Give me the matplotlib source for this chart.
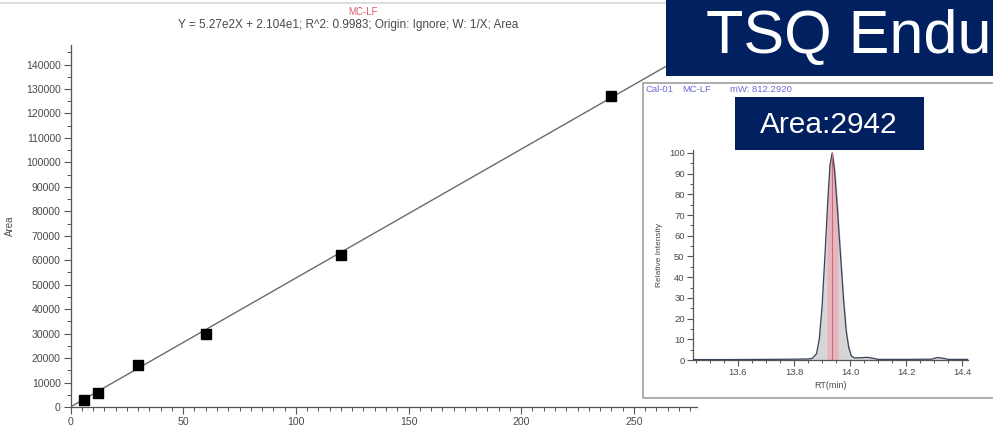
import matplotlib
matplotlib.use("Agg")
import matplotlib.pyplot as plt
from matplotlib.patches import Rectangle
from matplotlib.lines import Line2D
from matplotlib.ticker import MultipleLocator

plt.rcParams['font.family'] = ['Liberation Sans', 'DejaVu Sans']

# Calibration standards (concentration vs. peak area)
conc = [6, 12, 30, 60, 120, 240]
area = [2942, 5850, 17200, 29850, 62100, 127300]
slope = 5.27e2
intercept = 2.104e1
compound = "MC-LF"
fit_text = "Y = 5.27e2X + 2.104e1; R^2: 0.9983; Origin: Ignore; W: 1/X; Area"

# Cal-01 chromatogram (retention time, relative intensity)
rt = [13.44, 13.55, 13.70, 13.80, 13.85, 13.865, 13.880, 13.890, 13.900, 13.910,
      13.920, 13.928, 13.936, 13.944, 13.955, 13.966, 13.976, 13.986, 13.995,
      14.004, 14.015, 14.04, 14.06, 14.08, 14.10, 14.20, 14.29, 14.31, 14.33,
      14.35, 14.42]
intensity = [0.2, 0.2, 0.3, 0.4, 0.5, 0.8, 3, 10, 26, 50,
             76, 94, 100, 92, 72, 50, 30, 14, 6,
             2.0, 1.0, 1.1, 1.3, 0.9, 0.3, 0.3, 0.4, 1.2, 0.9,
             0.3, 0.3]
trace_run, trace_cmpd, trace_mass = "Cal-01", "MC-LF", "mW: 812.2920"
peak_area = 2942
instrument = "TSQ Endu"

W, H = 993, 432
fig = plt.figure(figsize=(W / 100, H / 100), dpi=100)


def box(x0, y0, x1, y1):
    """Pixel box (top-left origin) -> figure fraction rect."""
    return [x0 / W, 1 - y1 / H, (x1 - x0) / W, (y1 - y0) / H]


def fx(x):
    return x / W


def fy(y):
    return 1 - y / H


grey_text = "#4a4a4a"

# ---- calibration curve ----
ax = fig.add_axes(box(70.5, 45, 697, 407))
ax.set_xlim(0, 278)
ax.set_ylim(0, 148000)
xs = [0, 278]
ax.plot(xs, [slope * x + intercept for x in xs], color="#6a6a6a", lw=1.0, zorder=2)
ax.plot(conc, area, ls="none", marker="s", ms=7, color="black", zorder=3)
for s in ("top", "right"):
    ax.spines[s].set_visible(False)
for s in ("left", "bottom"):
    ax.spines[s].set_color("#555555")
    ax.spines[s].set_linewidth(0.9)
ax.xaxis.set_major_locator(MultipleLocator(50))
ax.xaxis.set_minor_locator(MultipleLocator(5))
ax.yaxis.set_major_locator(MultipleLocator(10000))
ax.yaxis.set_minor_locator(MultipleLocator(5000))
ax.tick_params(which="major", length=5, width=0.8, color="#555555",
               labelsize=7.6, labelcolor=grey_text, pad=2)
ax.tick_params(which="minor", length=3, width=0.7, color="#555555")
ax.set_ylabel("Area", fontsize=7, color=grey_text)
ax.yaxis.set_label_coords(-0.088, 0.5)

fig.text(fx(363), fy(12), compound, ha="center", va="center",
         fontsize=7, color="#e05a6a")
fig.text(fx(348), fy(25), fit_text, ha="center", va="center",
         fontsize=8.5, color=grey_text)

# faint rule across the top edge
fig.add_artist(Line2D([0, 1], [fy(3), fy(3)], color="#dddddd", lw=1.5))

# ---- chromatogram panel ----
fig.add_artist(Rectangle((fx(643), fy(398)), fx(993) - fx(643) + 0.01,
                         fy(83) - fy(398), facecolor="white",
                         edgecolor="#a0a0a0", lw=1.2, zorder=5,
                         transform=fig.transFigure))
for px, txt in ((645, trace_run), (682, trace_cmpd), (730, trace_mass)):
    fig.text(fx(px), fy(89), txt, ha="left", va="center",
             fontsize=6.8, color="#6b6bd6", zorder=6)

ins = fig.add_axes(box(693, 150, 968, 360), zorder=6)
ins.patch.set_alpha(0)
ins.set_xlim(13.44, 14.42)
ins.set_ylim(0, 101.4)
ins.fill_between(rt, intensity, color="#d6d6d6", zorder=1)
band = [(r, i) for r, i in zip(rt, intensity) if 13.918 <= r <= 13.957]
ins.fill_between([b[0] for b in band], [b[1] for b in band],
                 color="#e9b3bd", alpha=0.9, zorder=2)
ins.plot(rt, intensity, color="#3a4458", lw=0.9, zorder=3)
apex = rt[intensity.index(max(intensity))]
ins.plot([apex, apex], [0, max(intensity)], color="#c86a78", lw=0.8, zorder=4)
for s in ("top", "right"):
    ins.spines[s].set_visible(False)
for s in ("left", "bottom"):
    ins.spines[s].set_color("#555555")
    ins.spines[s].set_linewidth(0.9)
ins.xaxis.set_minor_locator(MultipleLocator(0.05))
ins.yaxis.set_major_locator(MultipleLocator(10))
ins.yaxis.set_minor_locator(MultipleLocator(5))
ins.set_xticks([13.6, 13.8, 14.0, 14.2, 14.4])
ins.set_xticklabels(["13.6", "13.8", "14.0", "14.2", "14.4"])
ins.tick_params(which="major", length=4, width=0.8, color="#555555",
                labelsize=6.8, labelcolor=grey_text, pad=2)
ins.tick_params(which="minor", length=2.5, width=0.7, color="#555555")
ins.set_xlabel("RT(min)", fontsize=6.5, color=grey_text, labelpad=3)
ins.set_ylabel("Relative Intensity", fontsize=6, color=grey_text, labelpad=4)

# ---- title banners ----
fig.add_artist(Rectangle((fx(666), fy(76)), fx(993) - fx(666) + 0.01,
                         fy(0) - fy(76) + 0.01, facecolor="#00205f",
                         edgecolor="none", zorder=10, transform=fig.transFigure))
fig.text(fx(706), fy(53), instrument, ha="left", va="baseline",
         fontsize=44, color="white", zorder=11)

fig.add_artist(Rectangle((fx(735), fy(150)), fx(924) - fx(735),
                         fy(97) - fy(150), facecolor="#00205f",
                         edgecolor="none", zorder=10, transform=fig.transFigure))
fig.text(fx(829), fy(133), f"Area:{peak_area}", ha="center", va="baseline",
         fontsize=21.5, color="white", zorder=11)

fig.savefig("out.png", dpi=100)
